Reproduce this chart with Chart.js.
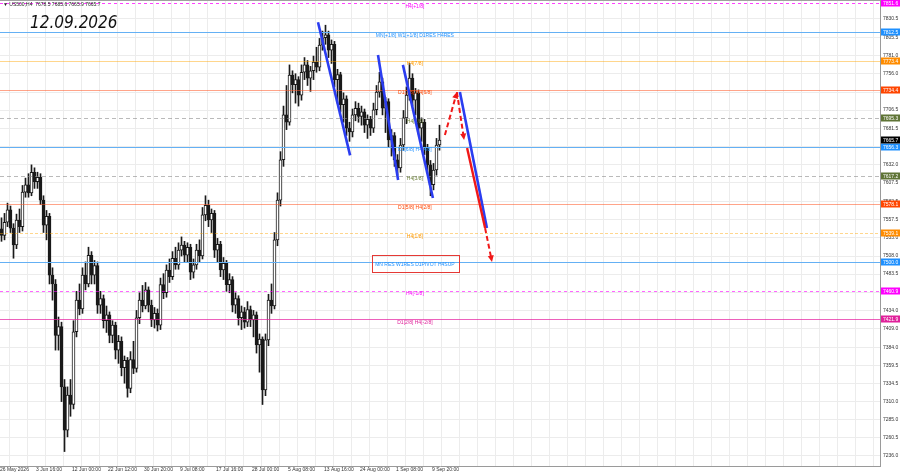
<!DOCTYPE html>
<html><head><meta charset="utf-8">
<script src="https://cdn.jsdelivr.net/npm/chart.js@4.4.1/dist/chart.umd.min.js"></script>
<style>html,body{margin:0;padding:0;background:#fff;}#wrap{position:relative;width:900px;height:474px;}canvas{display:block}</style>
</head><body><div id="wrap"><canvas id="c" width="900" height="474"></canvas></div>
<script>
// ---------- data ----------
const symbolTitle = "\u25BC US500,H4  7678.5 7685.6 7665.9 7665.7";
const dateTitle = "12.09.2026";
const opens = [7545,7536,7554,7571,7546,7523,7557,7548,7595,7605,7594,7622,7609,7615,7584,7550,7562,7482,7470,7400,7412,7330,7271,7319,7306,7405,7448,7436,7482,7470,7509,7482,7495,7441,7450,7420,7428,7400,7414,7380,7392,7356,7366,7328,7367,7355,7424,7448,7440,7462,7441,7421,7430,7414,7469,7458,7489,7480,7505,7496,7516,7523,7509,7520,7486,7496,7516,7508,7564,7577,7557,7566,7516,7524,7489,7498,7469,7476,7441,7450,7424,7432,7418,7435,7421,7428,7387,7395,7326,7394,7448,7440,7530,7584,7639,7700,7690,7754,7741,7748,7727,7758,7768,7750,7760,7772,7765,7795,7805,7809,7788,7796,7748,7755,7714,7722,7682,7677,7700,7709,7698,7704,7686,7694,7682,7707,7731,7745,7709,7718,7666,7672,7639,7628,7659,7696,7727,7750,7720,7730,7682,7690,7655,7632,7605,7625,7659];
const highs = [7560,7566,7580,7576,7552,7565,7572,7604,7614,7620,7632,7628,7622,7620,7590,7570,7566,7492,7476,7425,7418,7340,7330,7340,7420,7460,7470,7492,7500,7520,7514,7502,7500,7460,7455,7440,7432,7420,7418,7400,7398,7372,7370,7378,7392,7434,7458,7468,7472,7466,7448,7438,7436,7478,7484,7496,7504,7514,7520,7526,7534,7528,7526,7524,7504,7524,7530,7574,7590,7584,7572,7570,7532,7528,7506,7502,7484,7480,7458,7454,7440,7438,7446,7440,7434,7432,7402,7398,7402,7456,7470,7540,7594,7650,7712,7740,7768,7760,7756,7752,7768,7778,7774,7766,7780,7792,7804,7814,7822,7814,7802,7800,7762,7758,7730,7726,7690,7708,7718,7716,7712,7708,7700,7698,7716,7740,7758,7750,7724,7722,7680,7676,7646,7668,7706,7738,7770,7756,7736,7734,7696,7694,7660,7638,7634,7668,7686];
const lows = [7528,7530,7548,7540,7505,7518,7540,7542,7588,7588,7590,7600,7600,7578,7540,7530,7470,7448,7380,7380,7310,7242,7262,7290,7300,7398,7428,7430,7462,7466,7470,7470,7430,7430,7410,7404,7390,7390,7368,7362,7345,7335,7316,7322,7348,7350,7416,7432,7436,7432,7412,7410,7406,7408,7450,7452,7472,7476,7490,7490,7508,7500,7500,7476,7478,7490,7500,7504,7556,7548,7540,7506,7500,7480,7476,7460,7458,7432,7430,7414,7408,7410,7412,7412,7398,7376,7350,7306,7318,7386,7430,7436,7522,7576,7630,7680,7686,7730,7716,7712,7720,7748,7740,7732,7748,7758,7760,7788,7796,7778,7770,7738,7716,7704,7690,7672,7664,7670,7692,7690,7686,7676,7668,7672,7676,7700,7724,7700,7676,7656,7644,7630,7618,7622,7652,7688,7720,7712,7700,7674,7664,7646,7620,7590,7598,7618,7652];
const closes = [7536,7554,7571,7546,7523,7557,7548,7595,7605,7594,7622,7609,7615,7584,7550,7562,7482,7470,7400,7412,7330,7271,7319,7306,7405,7448,7436,7482,7470,7509,7482,7495,7441,7450,7420,7428,7400,7414,7380,7392,7356,7366,7328,7367,7355,7424,7448,7440,7462,7441,7421,7430,7414,7469,7458,7489,7480,7505,7496,7516,7523,7509,7520,7486,7496,7516,7508,7564,7577,7557,7566,7516,7524,7489,7498,7469,7476,7441,7450,7424,7432,7418,7435,7421,7428,7387,7395,7326,7394,7448,7440,7530,7584,7639,7700,7690,7754,7741,7748,7727,7758,7768,7750,7760,7772,7765,7795,7805,7809,7788,7796,7748,7755,7714,7722,7682,7677,7700,7709,7698,7704,7686,7694,7682,7707,7731,7745,7709,7718,7666,7672,7639,7628,7659,7696,7727,7750,7720,7730,7682,7690,7655,7632,7605,7625,7659,7665.7];
const lastPrice = 7665.7;
const timeLabels = ["26 May 2026","3 Jun 16:00","12 Jun 00:00","22 Jun 12:00","30 Jun 20:00","9 Jul 08:00","17 Jul 16:00","28 Jul 00:00","5 Aug 08:00","13 Aug 16:00","24 Aug 00:00","1 Sep 08:00","9 Sep 20:00"];
const priceTicks = [7236.0,7260.5,7285.0,7310.0,7334.5,7359.5,7384.0,7409.0,7434.0,7459.0,7483.5,7508.0,7533.0,7557.5,7582.5,7607.5,7632.0,7657.0,7681.5,7706.5,7731.0,7756.0,7781.0,7805.5,7830.5];
const levelPrices = [7851.6,7812.5,7773.4,7734.4,7695.3,7656.3,7617.2,7578.1,7539.1,7500.0,7460.9,7421.9];
const levelNames = ["H4[+1/8]","MN[+1/8] W1[+1/8] D1RES H4RES","H4[7/8]","D1[7/8] H4[6/8]","H4[5/8]","D1[6/8] H4[4/8]","H4[3/8]","D1[5/8] H4[2/8]","H4[1/8]","MN RES W1RES D1PIVOT H4SUP","H4[-1/8]","D1[2/8] H4[-2/8]"];
// trend lines: [barIndex1, price1, barIndex2, price2]
const blueLines = [[105.5,7826,116.2,7645],[125.5,7781.5,132.2,7611.4],[133.8,7768,143.8,7587],[152.8,7731,161.8,7546]];
const redSolidLines = [[155.2,7655,161.2,7546]];
const redArrowLines = [[147.8,7672.6,151.8,7731],[151.8,7731,154.2,7666],[161.2,7546,163.5,7500]];
const keyBox = [123.5,7509.4,152.5,7486.3];
const labelBarIndex = 137.8;

// ---------- styles ----------
const levelStyles = [
  {line:'rgba(255,0,255,0.75)', dash:[3,3], text:'#ff00ff', mark:'#ff00ff'},
  {line:'#64b0f4', dash:[], text:'#1e90ff', mark:'#1e90ff'},
  {line:'rgba(255,165,0,0.45)', dash:[], text:'#ff9a00', mark:'#ff8c00'},
  {line:'rgba(255,90,40,0.55)', dash:[], text:'#ff4500', mark:'#ff4500'},
  {line:'rgba(140,140,140,0.6)', dash:[4,3], text:'#6b7f3a', mark:'#5f7436'},
  {line:'#64b0f4', dash:[], text:'#1e90ff', mark:'#1e90ff'},
  {line:'rgba(140,140,140,0.6)', dash:[4,3], text:'#6b7f3a', mark:'#5f7436'},
  {line:'rgba(255,90,40,0.55)', dash:[], text:'#ff4500', mark:'#ff4500'},
  {line:'rgba(255,165,0,0.45)', dash:[3,2], text:'#ff9a00', mark:'#ff8c00'},
  {line:'#64b0f4', dash:[], text:'#1e90ff', mark:'#1e90ff'},
  {line:'rgba(255,0,255,0.6)', dash:[3,3], text:'#ff00ff', mark:'#ff00ff'},
  {line:'rgba(230,30,160,0.7)', dash:[], text:'#e0209a', mark:'#e0209a'}
];
const X_MIN = -0.5, X_MAX = -0.5 + 880/3;
const Y_MAX = 7856.3, Y_MIN = 7856.3 - 1.3604*466;
const tinyFont = '5px "Liberation Sans", "DejaVu Sans", sans-serif';

const idx = opens.map((_, i) => i);
const wickData = idx.map(i => ({x:i, y:[lows[i], highs[i]]}));
const bodyData = idx.map(i => ({x:i, y:[opens[i], closes[i]]}));
const bodyColors = idx.map(i => closes[i] >= opens[i] ? '#ffffff' : '#1a1a1a');

function arrowHead(ctx, x1, y1, x2, y2, size){
  const a = Math.atan2(y2-y1, x2-x1);
  ctx.beginPath();
  ctx.moveTo(x2, y2);
  ctx.lineTo(x2 - size*Math.cos(a-0.45), y2 - size*Math.sin(a-0.45));
  ctx.lineTo(x2 - size*Math.cos(a+0.45), y2 - size*Math.sin(a+0.45));
  ctx.closePath(); ctx.fill();
}

const overlay = {
  id:'overlay',
  afterDatasetsDraw(chart){
    const {ctx, chartArea:a, scales:{x,y}} = chart;
    ctx.save();
    ctx.beginPath(); ctx.rect(a.left,a.top,a.right-a.left,a.bottom-a.top); ctx.clip();
    // horizontal level lines
    levelPrices.forEach((p,i)=>{
      const st = levelStyles[i];
      const py = Math.round(y.getPixelForValue(p))+0.5;
      ctx.strokeStyle = st.line; ctx.lineWidth = 1; ctx.setLineDash(st.dash);
      ctx.beginPath(); ctx.moveTo(a.left,py); ctx.lineTo(a.right,py); ctx.stroke();
    });
    ctx.setLineDash([]);
    // level labels
    ctx.font = tinyFont; ctx.textAlign = 'center'; ctx.textBaseline = 'top';
    const lx = x.getPixelForValue(labelBarIndex);
    levelPrices.forEach((p,i)=>{
      ctx.fillStyle = levelStyles[i].text;
      ctx.fillText(levelNames[i], lx, y.getPixelForValue(p) + 0.5);
    });
    const bx1 = x.getPixelForValue(keyBox[0]), by1 = y.getPixelForValue(keyBox[1]);
    const bx2 = x.getPixelForValue(keyBox[2]), by2 = y.getPixelForValue(keyBox[3]);
    ctx.strokeStyle = '#e53935'; ctx.lineWidth = 1;
    ctx.strokeRect(Math.round(bx1)+0.5, Math.round(by1)+0.5, Math.round(bx2-bx1), Math.round(by2-by1));
    ctx.strokeStyle = '#2b3df0'; ctx.lineWidth = 2.6; ctx.lineCap = 'butt';
    blueLines.forEach(l=>{
      ctx.beginPath(); ctx.moveTo(x.getPixelForValue(l[0]), y.getPixelForValue(l[1]));
      ctx.lineTo(x.getPixelForValue(l[2]), y.getPixelForValue(l[3])); ctx.stroke();
    });
    ctx.strokeStyle = '#f01818'; ctx.lineWidth = 2.4;
    redSolidLines.forEach(l=>{
      ctx.beginPath(); ctx.moveTo(x.getPixelForValue(l[0]), y.getPixelForValue(l[1]));
      ctx.lineTo(x.getPixelForValue(l[2]), y.getPixelForValue(l[3])); ctx.stroke();
    });
    ctx.fillStyle = '#f01818';
    redArrowLines.forEach(l=>{
      const x1 = x.getPixelForValue(l[0]), y1 = y.getPixelForValue(l[1]);
      const x2 = x.getPixelForValue(l[2]), y2 = y.getPixelForValue(l[3]);
      ctx.setLineDash([5,3]); ctx.lineWidth = 2;
      const ang = Math.atan2(y2-y1, x2-x1);
      ctx.beginPath(); ctx.moveTo(x1,y1); ctx.lineTo(x2-4*Math.cos(ang), y2-4*Math.sin(ang)); ctx.stroke();
      ctx.setLineDash([]);
      arrowHead(ctx, x1, y1, x2, y2, 7);
    });
    ctx.restore();
  },
  afterDraw(chart){
    const {ctx, chartArea:a, scales:{y}} = chart;
    ctx.save();
    ctx.strokeStyle = '#a0a0a0'; ctx.lineWidth = 1;
    ctx.beginPath(); ctx.moveTo(0, 0.5); ctx.lineTo(a.right, 0.5); ctx.stroke();
    ctx.font = tinyFont; ctx.textAlign = 'left'; ctx.textBaseline = 'middle';
    const markers = levelPrices.map((p,i)=>({p, c:levelStyles[i].mark})).concat([{p:lastPrice, c:'#000000'}]);
    markers.forEach(m=>{
      const py = Math.round(y.getPixelForValue(m.p));
      ctx.fillStyle = m.c;
      ctx.fillRect(a.right+1, py-3.5, 19, 7);
      ctx.fillStyle = '#ffffff';
      ctx.fillText(m.p.toFixed(1), a.right+3, py+0.5);
    });
    ctx.fillStyle = '#222'; ctx.font = tinyFont; ctx.textBaseline = 'middle';
    ctx.fillText(symbolTitle, 3, 5);
    ctx.fillStyle = '#111'; ctx.font = 'italic 17px "Liberation Sans Narrow", "DejaVu Sans Condensed", sans-serif';
    ctx.fillText(dateTitle, 30, 24);
    ctx.restore();
  }
};

new Chart(document.getElementById('c'), {
  type:'bar',
  data:{ datasets:[
    {data:wickData, backgroundColor:'#1a1a1a', barThickness:1, grouped:false, order:2},
    {data:bodyData, backgroundColor:bodyColors, borderColor:'#1a1a1a', borderWidth:1, borderSkipped:false, barThickness:3, minBarLength:1, grouped:false, order:1}
  ]},
  options:{
    responsive:false, animation:false, devicePixelRatio:1,
    layout:{padding:0},
    plugins:{legend:{display:false}, tooltip:{enabled:false}},
    scales:{
      x:{ type:'linear', min:X_MIN, max:X_MAX, offset:false,
        afterBuildTicks: s => { const t=[]; for(let k=0; X_MIN+6*k <= X_MAX; k++) t.push({value:X_MIN+6*k}); s.ticks=t; },
        afterFit: s => { s.height = 8; s.paddingLeft = 0; s.paddingRight = 0; },
        ticks:{ autoSkip:false, maxRotation:0, minRotation:0, align:'start', padding:1, color:'#333', font:{size:5, family:'"Liberation Sans", "DejaVu Sans", sans-serif'},
          callback:(v,i)=> (i%2===0 && timeLabels[i/2]) ? timeLabels[i/2] : '' },
        grid:{ color:'#ececec', drawTicks:false }, border:{ color:'#9a9a9a' } },
      y:{ position:'right', min:Y_MIN, max:Y_MAX,
        afterBuildTicks: s => { s.ticks = priceTicks.map(v=>({value:v})); },
        afterFit: s => { s.width = 20; s.paddingTop = 0; s.paddingBottom = 0; },
        ticks:{ padding:3, color:'#333', font:{size:5, family:'"Liberation Sans", "DejaVu Sans", sans-serif'}, callback: v => Number(v).toFixed(1) },
        grid:{ color:'#ececec', drawTicks:false }, border:{ color:'#9a9a9a' } }
    }
  },
  plugins:[overlay]
});
</script></body></html>
